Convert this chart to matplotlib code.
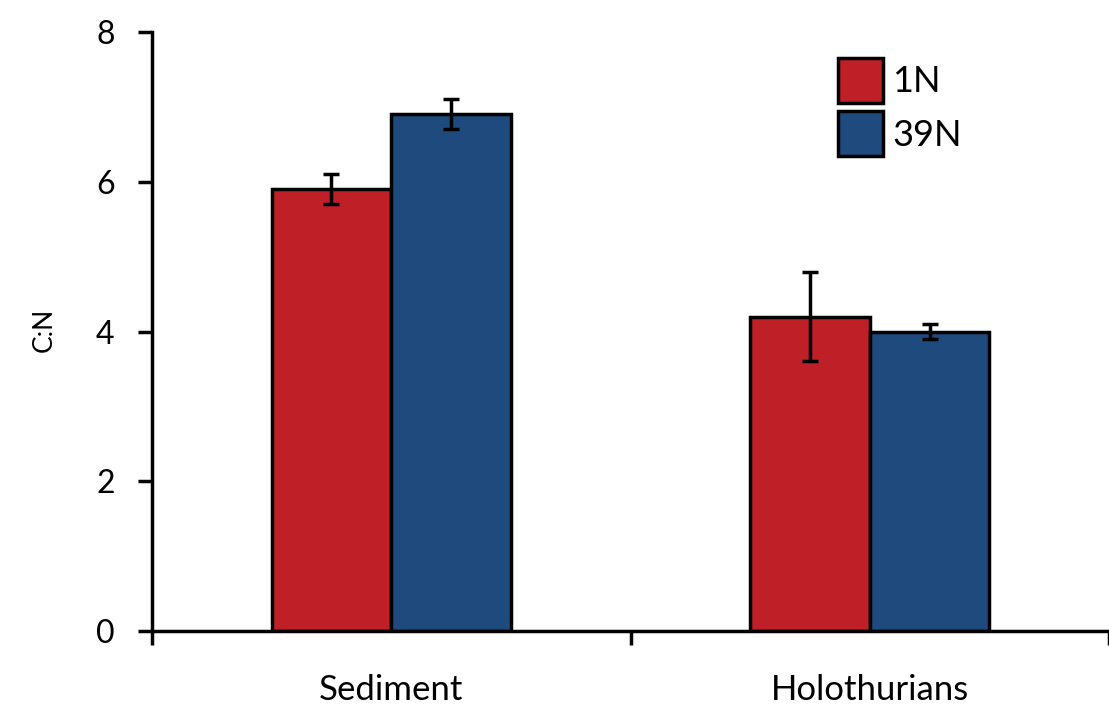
import matplotlib
matplotlib.use("Agg")
import matplotlib.pyplot as plt
import numpy as np

categories = ["Sediment", "Holothurians"]
series = ["1N", "39N"]
values_1N = [5.9, 4.2]
values_39N = [6.9, 4.0]
err_1N = [0.2, 0.6]
err_39N = [0.2, 0.1]
colors = ["#BF1F26", "#1F4A7E"]
yticks = [0, 2, 4, 6, 8]

plt.rcParams['font.family'] = ['Lato', 'DejaVu Sans']

fig = plt.figure(figsize=(11.09, 7.08), dpi=100)
ax = fig.add_axes([152/1109, 77/708, (1109-152)/1109, (631-32)/708])

x = np.arange(len(categories))
w = 0.25
for i, (vals, errs, c, lab) in enumerate([(values_1N, err_1N, colors[0], series[0]),
                                           (values_39N, err_39N, colors[1], series[1])]):
    ax.bar(x + (i - 0.5) * w, vals, width=w, color=c, edgecolor="black",
           linewidth=2.5, label=lab, zorder=2)
    ax.errorbar(x + (i - 0.5) * w, vals, yerr=errs, fmt="none", ecolor="black",
                elinewidth=2.5, capsize=6, capthick=2.5, zorder=3)

ax.set_xlim(-0.5, 1.49)
ax.set_ylim(0, 8)
ax.set_yticks(yticks)
ax.set_yticklabels([str(t) for t in yticks], fontsize=23)
ax.set_xticks([-0.5, 0.5, 1.5])
ax.set_xticklabels([])
ax.set_xticks(x, minor=True)
ax.set_xticklabels(categories, minor=True, fontsize=25)
ax.tick_params(axis="x", which="minor", length=0, pad=31)
ax.tick_params(axis="x", which="major", length=10, width=2.5, direction="out")
ax.tick_params(axis="y", length=10, width=2.5, direction="out", pad=17)

for s in ["top", "right"]:
    ax.spines[s].set_visible(False)
for s in ["left", "bottom"]:
    ax.spines[s].set_linewidth(2.5)

ax.set_ylabel("C:N", fontsize=19)
ax.yaxis.set_label_coords((44-152)/957, (631-330)/599)
ax.yaxis.label.set_va("center")

leg = ax.legend(loc="upper left", bbox_to_anchor=((838-152)/957, 1.0 - (58-32)/599),
                frameon=False, fontsize=26, handlelength=1.25, handleheight=1.55,
                handletextpad=0.25, labelspacing=0.22, borderaxespad=0, borderpad=0)
for p in leg.get_patches():
    p.set_linewidth(2.5)

fig.savefig("out.png", dpi=100)
